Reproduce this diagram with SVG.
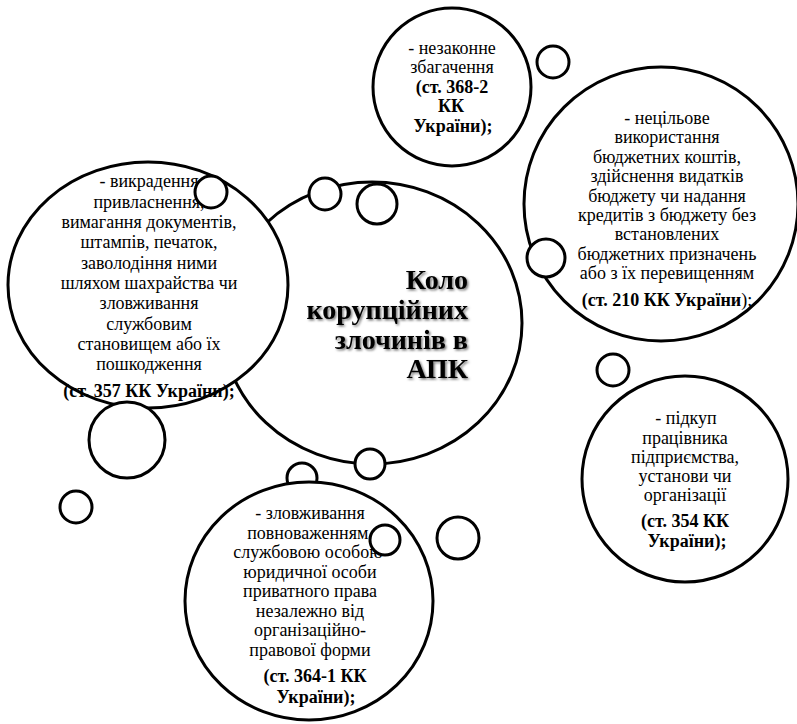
<svg xmlns="http://www.w3.org/2000/svg" width="797" height="724" viewBox="0 0 797 724">
<defs>
<style>
.c{fill:#fff;stroke:#000;stroke-width:3}
.t{font-family:"Liberation Serif","Times New Roman",serif;font-size:18px;text-anchor:middle;fill:#000}
.b{font-weight:bold}
.title{font-family:"Liberation Serif","Times New Roman",serif;font-size:28px;font-weight:bold;text-anchor:end;fill:#000}
</style>
<filter id="sh" x="-10%" y="-10%" width="130%" height="130%">
<feDropShadow dx="1.5" dy="1.5" stdDeviation="1.2" flood-color="#000" flood-opacity="0.55"/>
</filter>
</defs>
<rect width="797" height="724" fill="#fff"/>

<g id="center">
<ellipse class="c" cx="372" cy="323" rx="150" ry="141"/>
</g>

<g id="node-357">
<ellipse class="c" cx="148" cy="285" rx="140" ry="123"/>
<text class="t" x="149" y="187">- викрадення</text>
<text class="t" x="149" y="207.5">привласнення,</text>
<text class="t" x="149" y="228">вимагання документів,</text>
<text class="t" x="149" y="248">штампів, печаток,</text>
<text class="t" x="149" y="268.5">заволодіння ними</text>
<text class="t" x="149" y="289">шляхом шахрайства чи</text>
<text class="t" x="149" y="309">зловживання</text>
<text class="t" x="149" y="330">службовим</text>
<text class="t" x="149" y="350">становищем або їх</text>
<text class="t" x="149" y="370">пошкодження</text>
<text class="t b" x="149" y="397">(ст. 357 КК України);</text>
<circle class="c" cx="211" cy="192" r="16"/>
</g>

<g id="center-title">
<g filter="url(#sh)">
<text class="title" x="468" y="289">Коло</text>
<text class="title" x="468" y="319">корупційних</text>
<text class="title" x="468" y="349">злочинів в</text>
<text class="title" x="468" y="378">АПК</text>
</g>
</g>

<g id="bubbles-center">
<circle class="c" cx="325" cy="194" r="16"/>
<circle class="c" cx="377" cy="204" r="20"/>
<circle class="c" cx="370" cy="464" r="15"/>
<circle class="c" cx="302" cy="478" r="15"/>
</g>

<g id="node-364">
<ellipse class="c" cx="309" cy="601" rx="124" ry="119"/>
<text class="t" x="310" y="519">- зловживання</text>
<text class="t" x="310" y="538.5">повноваженням,</text>
<text class="t" x="308" y="558">службовою особою</text>
<text class="t" x="310" y="577.5">юридичної особи</text>
<text class="t" x="310" y="597">приватного права</text>
<text class="t" x="310" y="616.5">незалежно від</text>
<text class="t" x="310" y="636">організаційно-</text>
<text class="t" x="310" y="655.5">правової форми</text>
<text class="t b" x="315" y="682">(ст. 364-1 КК</text>
<text class="t b" x="316" y="703">України);</text>
<circle class="c" cx="385" cy="540" r="15"/>
</g>

<g id="bubbles-left">
<circle class="c" cx="127" cy="440" r="38"/>
<circle class="c" cx="76" cy="507" r="16"/>
<circle class="c" cx="458" cy="538" r="21"/>
</g>

<g id="node-368">
<circle class="c" cx="452" cy="87" r="79"/>
<text class="t" x="452" y="54">- незаконне</text>
<text class="t" x="452" y="73.4">збагачення</text>
<text class="t b" x="452" y="92.8">(ст. 368-2</text>
<text class="t b" x="451" y="112.2">КК</text>
<text class="t b" x="453" y="131.6">України);</text>
<circle class="c" cx="553" cy="62" r="16"/>
</g>

<g id="node-210">
<circle class="c" cx="661" cy="204" r="137"/>
<text class="t" x="667" y="124">-  нецільове</text>
<text class="t" x="667" y="143.4">використання</text>
<text class="t" x="667" y="162.8">бюджетних коштів,</text>
<text class="t" x="667" y="182.2">здійснення видатків</text>
<text class="t" x="667" y="201.6">бюджету чи надання</text>
<text class="t" x="667" y="221">кредитів з бюджету без</text>
<text class="t" x="667" y="240.4">встановлених</text>
<text class="t" x="667" y="259.8">бюджетних призначень</text>
<text class="t" x="667" y="279.2">або з їх перевищенням</text>
<text class="t" x="667" y="306"><tspan class="b">(ст. 210 КК України</tspan>);</text>
<circle class="c" cx="546" cy="258" r="19"/>
</g>

<g id="node-354">
<circle class="c" cx="613" cy="370" r="16"/>
<circle class="c" cx="685" cy="479" r="103"/>
<text class="t" x="686" y="424">- підкуп</text>
<text class="t" x="685" y="443.5">працівника</text>
<text class="t" x="685" y="463">підприємства,</text>
<text class="t" x="685" y="482">установи чи</text>
<text class="t" x="685" y="501">організації</text>
<text class="t b" x="685" y="527">(ст. 354 КК</text>
<text class="t b" x="687" y="547">України);</text>
</g>

<g id="connectors"></g>
</svg>
